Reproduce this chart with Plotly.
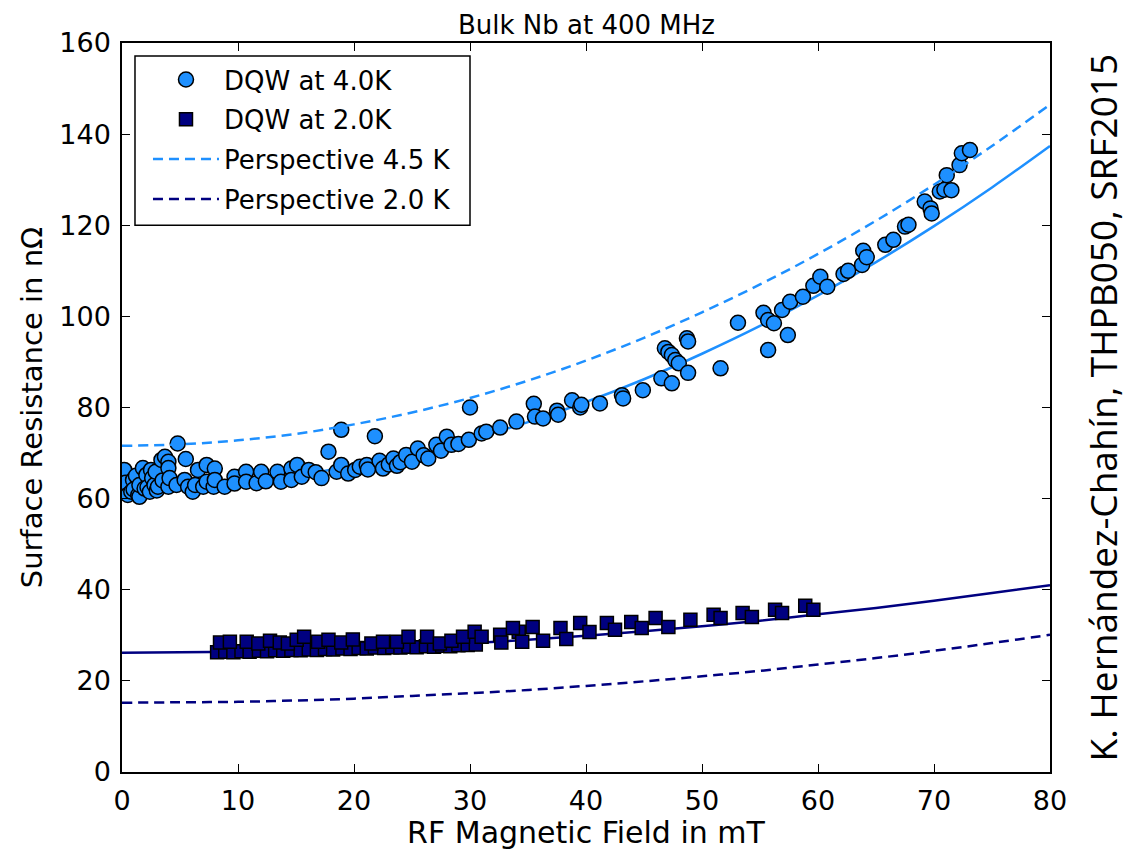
import plotly.graph_objects as go

# ---- DQW at 4.0 K (circles) ----
x_4k = [0.1, 0.2, 0.3, 0.5, 0.8, 0.95, 1.0, 1.2, 1.4, 1.5, 1.5, 1.8, 1.95, 2.1, 2.2, 2.4, 2.5, 2.6, 2.8, 2.9,
        3.0, 3.1, 3.4, 3.5, 3.7, 4.0, 4.0, 4.0, 4.1, 4.7, 4.8, 5.4, 5.5, 5.7, 6.1, 6.3, 6.55, 7.0, 7.3, 7.3,
        7.9, 8.0, 8.0, 8.85, 9.7, 9.7, 10.7, 10.7, 11.6, 12.0, 12.4, 13.4, 13.7, 14.6, 14.6,
        15.1, 15.5, 16.1, 16.7, 17.2, 17.8, 18.5, 18.9, 18.9, 19.5, 20.1, 20.5, 21.1, 21.2, 21.8, 22.2, 22.5,
        23.0, 23.4, 23.7, 24.0, 24.5, 25.0, 25.5, 26.0, 26.4, 27.1, 27.5, 28.0, 28.4, 29.0, 29.9, 30.0,
        31.0, 31.4, 32.6, 34.0, 35.5, 35.6, 36.3, 37.5, 37.6, 38.8, 39.5, 39.6, 41.2, 43.1, 43.2, 44.9,
        46.5, 47.4, 46.8, 47.1, 47.4, 47.7, 48.0, 48.7, 48.8, 48.8, 51.6, 53.1, 55.3, 55.7, 55.7, 56.2,
        56.9, 57.4, 57.6, 58.7, 59.6, 60.2, 60.8, 62.2, 62.6, 63.8, 63.9, 64.2, 65.8, 66.5, 67.5, 67.8,
        69.2, 69.7, 69.8, 70.5, 70.9, 71.1, 71.5, 72.2, 72.4, 73.1]
y_4k = [66.0, 66.3, 63.5, 60.8, 61.5, 64.1, 62.0, 65.0, 60.8, 60.4, 63.0, 66.7, 62.2, 65.2, 62.5, 61.5, 66.3, 64.5, 63.0, 65.9,
        61.8, 62.6, 68.5, 64.0, 69.2, 68.1, 66.7, 62.6, 64.5, 63.0, 72.1, 64.1, 68.7, 62.6, 61.5, 63.0, 66.3, 62.6, 67.4, 63.7,
        62.6, 66.6, 64.1, 62.6, 64.8, 63.3, 65.9, 63.7, 63.4, 65.9, 63.8, 65.9, 63.7, 66.6, 64.1,
        67.4, 64.8, 66.3, 65.8, 64.5, 70.3, 65.9, 75.1, 67.4, 65.5, 66.3, 67.0, 67.4, 66.4, 73.7, 68.3, 66.6,
        67.5, 68.8, 67.2, 68.0, 69.6, 68.1, 71.0, 69.5, 68.8, 71.8, 70.5, 73.6, 71.8, 72.0, 72.9, 80.0,
        74.3, 74.7, 75.6, 76.9, 80.8, 78.0, 77.6, 79.3, 78.4, 81.6, 80.0, 80.6, 80.9, 82.7, 82.0, 83.8,
        86.4, 85.3, 93.0, 92.2, 91.5, 90.4, 89.7, 95.2, 94.5, 87.6, 88.6, 98.6, 100.8, 99.2, 92.6, 98.5,
        101.4, 95.9, 103.2, 104.3, 106.7, 108.7, 106.5, 109.3, 110.0, 111.3, 114.4, 113.0, 115.7, 116.8, 119.7, 120.1,
        125.2, 123.7, 122.6, 127.4, 127.8, 131.0, 127.7, 133.2, 135.8, 136.5]

# ---- DQW at 2.0 K (squares) ----
x_2k = [8.2, 8.9, 9.6, 10.3, 11.0, 11.8, 12.5, 13.2, 13.9, 14.6, 15.4, 16.1, 16.8, 17.5, 18.2, 19.0,
        19.7, 20.4, 21.1, 21.8, 22.6, 23.3, 24.0, 24.7, 25.4, 26.2, 26.9, 27.6, 28.3, 29.0, 29.8, 30.5,
        8.45, 9.3, 10.75, 11.75, 12.76, 13.6, 14.3, 15.06, 15.7, 16.9, 17.8, 18.9, 19.9, 21.5, 22.5, 23.7,
        24.7, 26.3, 27.4, 28.4, 29.4, 30.4, 31.0, 32.6, 34.2,
        32.7, 33.7, 34.5, 35.4, 36.3, 37.8, 38.3, 39.5, 40.3, 41.8, 42.5, 43.9, 44.8, 46.0, 47.1, 49.0,
        51.0, 51.6, 53.5, 54.3, 56.3, 56.9, 58.9, 59.6]
y_2k = [26.3, 26.4, 26.3, 26.5, 26.4, 26.6, 26.5, 26.7, 26.6, 26.8, 26.7, 26.9, 26.8, 27.0, 26.9, 27.1,
        27.0, 27.2, 27.1, 27.3, 27.2, 27.4, 27.3, 27.5, 27.4, 27.6, 27.5, 27.7, 27.6, 27.8, 27.9, 28.0,
        28.4, 28.6, 28.6, 28.2, 28.8, 28.4, 28.2, 29.0, 29.7, 28.6, 29.0, 28.4, 29.1, 28.2, 28.6, 28.6,
        29.7, 29.7, 28.2, 28.8, 29.7, 30.8, 29.7, 30.1, 30.8,
        28.4, 31.6, 28.6, 31.8, 28.8, 31.6, 29.2, 32.7, 30.7, 32.7, 31.2, 32.9, 31.6, 33.8, 31.8, 33.4,
        34.5, 33.8, 34.9, 34.0, 35.6, 34.9, 36.5, 35.6]

# ---- model curves, read every 5 mT ----
x_fit = [0, 5, 10, 15, 20, 25, 30, 35, 40, 45, 50, 55, 60, 65, 70, 75, 80]
fit_4k = [62.5, 62.8, 63.7, 65.1, 67.2, 69.8, 73.0, 76.8, 81.2, 86.2, 91.8, 97.9, 104.6, 111.9, 119.8, 128.3, 137.4]
persp_45k = [71.6, 71.9, 72.8, 74.2, 76.3, 78.9, 82.1, 85.9, 90.3, 95.3, 100.9, 107.0, 113.7, 121.0, 128.9, 137.4, 146.5]
fit_2k = [26.2, 26.3, 26.4, 26.7, 27.1, 27.7, 28.3, 29.0, 29.9, 30.9, 32.0, 33.2, 34.6, 36.0, 37.6, 39.3, 41.0]
persp_20k = [15.2, 15.3, 15.4, 15.7, 16.1, 16.7, 17.3, 18.0, 18.9, 19.9, 21.0, 22.2, 23.6, 25.0, 26.6, 28.3, 30.1]

x_ticks = [0, 10, 20, 30, 40, 50, 60, 70, 80]
y_ticks = [0, 20, 40, 60, 80, 100, 120, 140, 160]

LIGHT = "#1E90FF"
NAVY = "#000080"
FONT = "DejaVu Sans"
DASH = "10px,6px"

fig = go.Figure()

fig.add_trace(go.Scatter(x=x_fit, y=fit_4k, mode="lines", line=dict(color=LIGHT, width=2.5, shape="spline"),
                         showlegend=False, hoverinfo="skip"))
fig.add_trace(go.Scatter(x=x_fit, y=fit_2k, mode="lines", line=dict(color=NAVY, width=2.5, shape="spline"),
                         showlegend=False, hoverinfo="skip"))

fig.add_trace(go.Scatter(x=x_4k, y=y_4k, mode="markers", name="DQW at 4.0K", legendgroup="a", legendrank=1,
                         marker=dict(symbol="circle", size=15, color=LIGHT, line=dict(color="black", width=1.5))))
fig.add_trace(go.Scatter(x=x_2k, y=y_2k, mode="markers", name="DQW at 2.0K", legendgroup="b", legendrank=2,
                         marker=dict(symbol="square", size=13, color=NAVY, line=dict(color="black", width=1.5))))
fig.add_trace(go.Scatter(x=x_fit, y=persp_45k, mode="lines", name="Perspective 4.5 K", legendgroup="c", legendrank=3,
                         line=dict(color=LIGHT, width=2.5, dash=DASH, shape="spline")))
fig.add_trace(go.Scatter(x=x_fit, y=persp_20k, mode="lines", name="Perspective 2.0 K", legendgroup="d", legendrank=4,
                         line=dict(color=NAVY, width=2.5, dash=DASH, shape="spline")))

axis_common = dict(showline=True, linecolor="black", linewidth=1.5, mirror="ticks", ticks="inside",
                   ticklen=8, tickwidth=1, tickcolor="black", showgrid=False, zeroline=False,
                   ticklabelstandoff=4, automargin=False,
                   tickfont=dict(family=FONT, size=27, color="black"))

fig.update_xaxes(range=[0, 80], tickvals=x_ticks, ticktext=[str(v) for v in x_ticks],
                 title=dict(text="RF Magnetic Field in mT", font=dict(family=FONT, size=30, color="black"), standoff=4),
                 **axis_common)
fig.update_yaxes(range=[0, 160], tickvals=y_ticks, ticktext=[str(v) for v in y_ticks],
                 title=dict(text="Surface Resistance in nΩ", font=dict(family=FONT, size=29, color="black"), standoff=8),
                 **axis_common)

fig.update_layout(
    width=1129, height=850,
    margin=dict(l=122, r=79, t=43, b=78, autoexpand=False),
    paper_bgcolor="white", plot_bgcolor="white",
    font=dict(family=FONT, color="black"),
    legend=dict(x=0.028, y=0.982, xanchor="left", yanchor="top", bgcolor="rgba(0,0,0,0)",
                borderwidth=0, font=dict(family=FONT, size=26, color="black"),
                traceorder="grouped", tracegroupgap=3, itemwidth=66),
    shapes=[dict(type="rect", xref="paper", yref="paper", x0=0.014, x1=0.375, y0=0.750, y1=0.982,
                 line=dict(color="black", width=1.5), fillcolor="rgba(0,0,0,0)", layer="above")],
    annotations=[
        dict(text="Bulk Nb at 400 MHz", x=0.5, y=1.0, xref="paper", yref="paper", xanchor="center",
             yanchor="bottom", yshift=1, showarrow=False, font=dict(family=FONT, size=26, color="black")),
        dict(text="K. Hernández-Chahín, THPB050, SRF2015", x=1.057, y=0.5, xref="paper", yref="paper",
             xanchor="center", yanchor="middle", textangle=-90, showarrow=False,
             font=dict(family="Open Sans", size=37, color="black")),
    ],
)

fig.write_html("out.html")
